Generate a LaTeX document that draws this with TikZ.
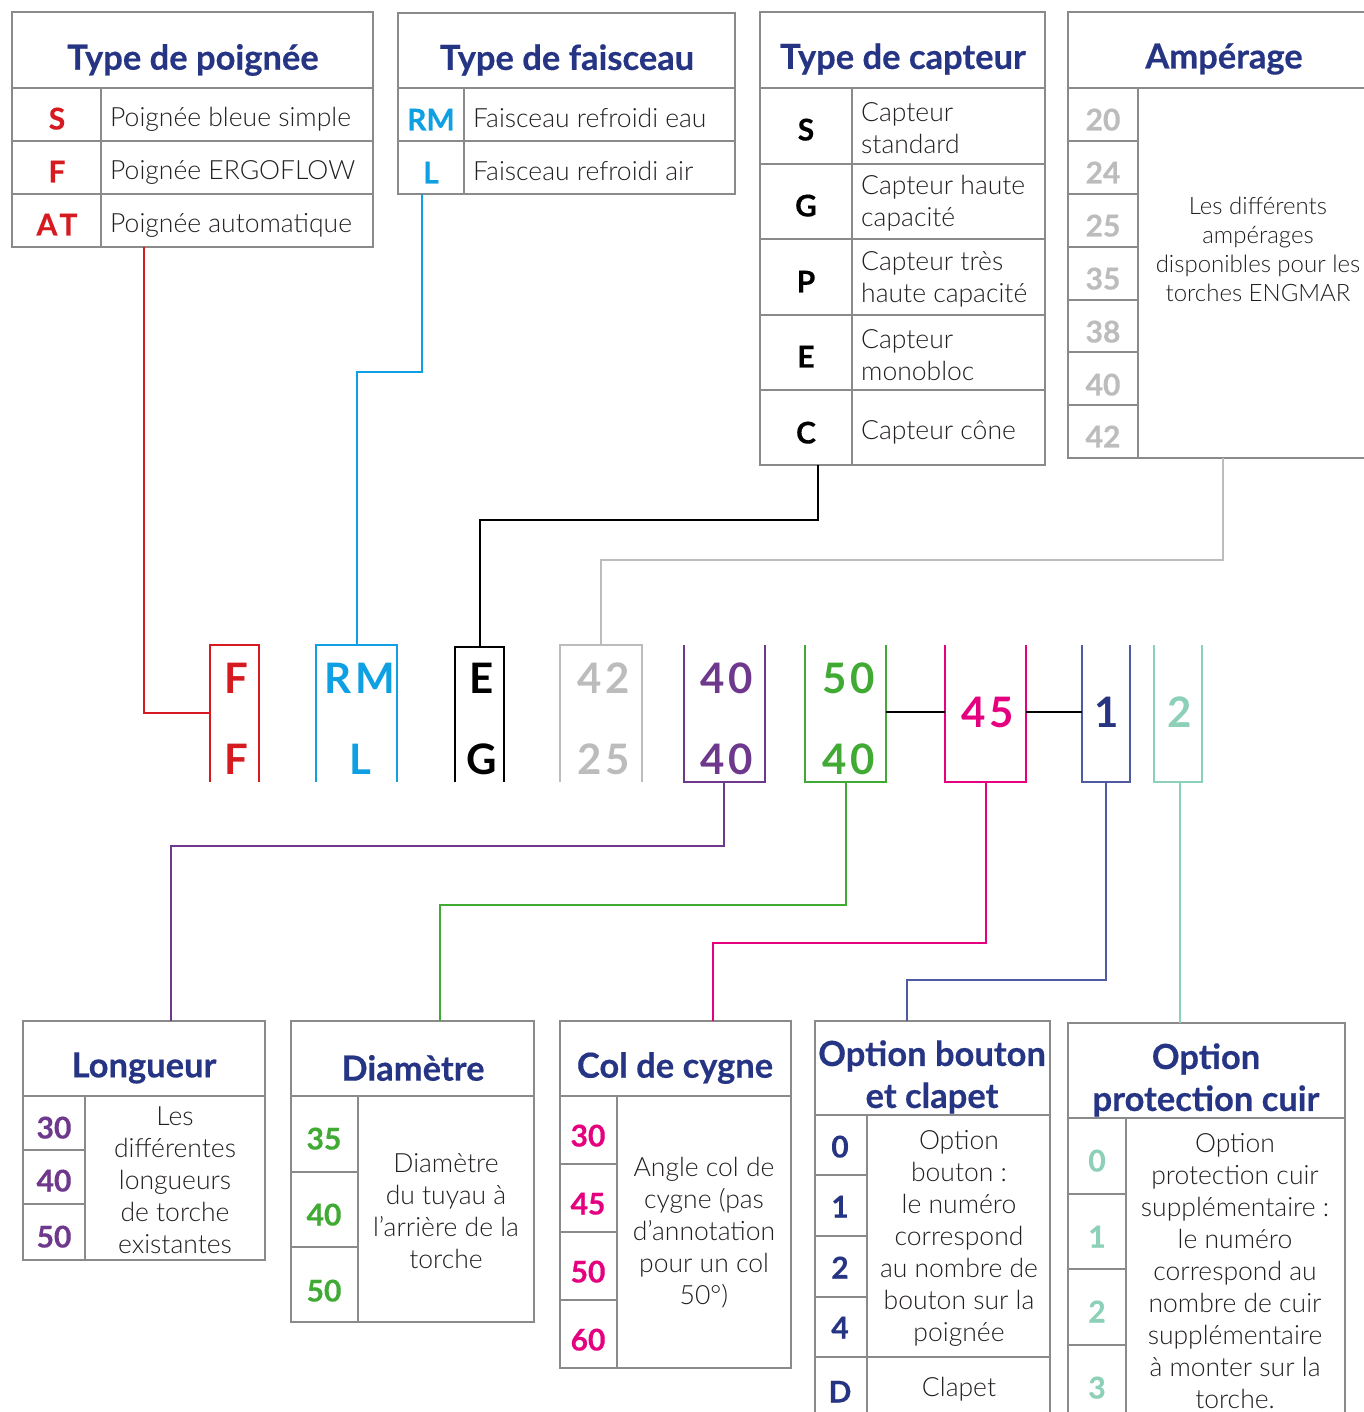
\documentclass[tikz,border=0pt]{standalone}
\usepackage{fontspec}
\setmainfont{Lato Light}[BoldFont={Lato Bold}]
\newfontfamily\codefont[LetterSpace=8]{Lato Bold}
\newfontfamily\heavyfont[FakeBold=0.4]{Lato Bold}
\definecolor{navy}{RGB}{38,52,132}
\definecolor{cred}{RGB}{213,26,32}
\definecolor{cblue}{RGB}{14,160,226}
\definecolor{cgray}{RGB}{188,188,188}
\definecolor{cpurple}{RGB}{110,56,140}
\definecolor{cgreen}{RGB}{64,170,53}
\definecolor{cpink}{RGB}{228,0,126}
\definecolor{cnavy}{RGB}{40,52,128}
\definecolor{cnavyline}{RGB}{80,90,160}
\definecolor{cmint}{RGB}{140,208,184}
\definecolor{tblgray}{RGB}{138,138,138}
\definecolor{txt}{RGB}{35,31,32}
\tikzset{
  tbl/.style={draw=tblgray, line width=1.3pt},
  ttl/.style={font=\fontsize{34.5}{42}\selectfont\heavyfont, text=navy, align=center, inner sep=0pt, yshift=-3pt},
  body/.style={font=\fontsize{26.5}{32}\selectfont, text=txt, align=center, inner sep=0pt},
  bodyl/.style={font=\fontsize{26.5}{32}\selectfont, text=txt, align=left, anchor=west, inner sep=0pt, yshift=-3pt},
  small/.style={font=\fontsize{24}{29}\selectfont, text=txt, align=center, inner sep=0pt},
  code/.style={font=\fontsize{30}{32}\selectfont\heavyfont, inner sep=0pt, anchor=mid, yshift=-7pt},
  big/.style={font=\fontsize{42}{44}\selectfont\codefont, inner sep=0pt, anchor=mid, yshift=-11pt},
  conn/.style={line width=1.4pt},
  cbox/.style={line width=1.6pt}
}
\begin{document}
\begin{tikzpicture}[x=1pt,y=-1pt]
\useasboundingbox (0,0) rectangle (1363,1412);
\fill[white] (0,0) rectangle (1363,1412);

% ---------- Table 1: Type de poignee
\draw[tbl] (12,12) rectangle (373,247);
\draw[tbl] (12,88) -- (373,88) (12,141) -- (373,141) (12,194) -- (373,194) (101,88) -- (101,247);
\node[ttl] (t1title) at (193,57) {Type de poignée};
\node[code,text=cred] (t1s) at (57,120) {S};
\node[code,text=cred] (t1f) at (57,173) {F};
\node[code,text=cred] (t1at) at (57,226) {A\kern2pt T};
\node[bodyl] (t1d1) at (110,116) {Poignée bleue simple};
\node[bodyl] (t1d2) at (110,169) {Poignée ERGOFLOW};
\node[bodyl] (t1d3) at (110,222) {Poignée automatique};
\coordinate (t1b) at (144,247);

% ---------- Table 2: Type de faisceau
\draw[tbl] (398,13) rectangle (735,194);
\draw[tbl] (398,88) -- (735,88) (398,141) -- (735,141) (464,88) -- (464,194);
\node[ttl] (t2title) at (567,57) {Type de faisceau};
\node[code,text=cblue] (t2rm) at (431,121) {RM};
\node[code,text=cblue] (t2l) at (431,174) {L};
\node[bodyl] (t2d1) at (473,115) {Faisceau refroidi eau};
\node[bodyl] (t2d2) at (473,168) {Faisceau refroidi air};
\coordinate (t2b) at (422,194);

% ---------- Table 3: Type de capteur
\draw[tbl] (760,12) rectangle (1045,465);
\draw[tbl] (760,88) -- (1045,88) (760,164) -- (1045,164) (760,239) -- (1045,239)
  (760,315) -- (1045,315) (760,390) -- (1045,390) (852,88) -- (852,465);
\node[ttl] (t3title) at (903,56) {Type de capteur};
\node[code,text=black] (t3s) at (806,131) {S};
\node[code,text=black] (t3g) at (806,207) {G};
\node[code,text=black] (t3p) at (806,283) {P};
\node[code,text=black] (t3e) at (806,358) {E};
\node[code,text=black] (t3c) at (806,434) {C};
\node[bodyl] (t3d1) at (861,125) {Capteur\\standard};
\node[bodyl] (t3d2) at (861,200) {Capteur haute\\capacité};
\node[bodyl] (t3d3) at (861,276) {Capteur très\\haute capacité};
\node[bodyl] (t3d4) at (861,352) {Capteur\\monobloc};
\node[bodyl] (t3d5) at (861,429) {Capteur cône};
\coordinate (t3b) at (818,465);

% ---------- Table 4: Amperage
\draw[tbl] (1372,12) -- (1068,12) -- (1068,458) -- (1372,458);
\draw[tbl] (1068,88) -- (1372,88) (1138,88) -- (1138,458);
\draw[tbl] (1068,141) -- (1138,141) (1068,194) -- (1138,194) (1068,247) -- (1138,247)
  (1068,300) -- (1138,300) (1068,352) -- (1138,352) (1068,405) -- (1138,405);
\node[ttl] (t4title) at (1224,56) {Ampérage};
\foreach \v/\yy/\nm in {20/121/a,24/174/b,25/227/c,35/280/d,38/333/e,40/386/f,42/438/g}
  \node[code,text=cgray] (t4\nm) at (1103,\yy) {\v};
\node[small] (t4desc) at (1258,249) {Les différents\\ampérages\\disponibles pour les\\torches ENGMAR};
\coordinate (t4b) at (1223,458);

% ---------- Code boxes
\draw[cbox,cred] (210,782) -- (210,645) -- (259,645) -- (259,782);
\draw[cbox,cblue] (316,782) -- (316,645) -- (397,645) -- (397,782);
\draw[cbox,black] (455,782) -- (455,647) -- (504,647) -- (504,782);
\draw[cbox,cgray] (560,782) -- (560,645) -- (642,645) -- (642,782);
\draw[cbox,cpurple] (684,645) -- (684,782) -- (765,782) -- (765,645);
\draw[cbox,cgreen] (805,645) -- (805,782) -- (886,782) -- (886,645);
\draw[cbox,cpink] (945,645) -- (945,782) -- (1026,782) -- (1026,645);
\draw[cbox,cnavyline] (1082,645) -- (1082,782) -- (1130,782) -- (1130,645);
\draw[cbox,cmint] (1154,645) -- (1154,782) -- (1202,782) -- (1202,645);

\node[big,text=cred] (cf1) at (236,680) {F};
\node[big,text=cred] (cf2) at (236,761) {F};
\node[big,text=cblue] (crm) at (360,680) {RM};
\node[big,text=cblue] (cl) at (360,761) {L};
\node[big,text=black] (ce) at (482,680) {E};
\node[big,text=black] (cg) at (482,761) {G};
\node[big,text=cgray] (c42) at (604,680) {42};
\node[big,text=cgray] (c25) at (604,761) {25};
\node[big,text=cpurple] (c40a) at (727,680) {40};
\node[big,text=cpurple] (c40b) at (727,761) {40};
\node[big,text=cgreen] (c50) at (849,680) {50};
\node[big,text=cgreen] (c40c) at (849,761) {40};
\node[big,text=cpink] (c45) at (988,714) {45};
\node[big,text=cnavy] (c1) at (1107,714) {1};
\node[big,text=cmint] (c2) at (1180,714) {2};

\coordinate (bF) at (210,713);
\coordinate (bRM) at (357,645);
\coordinate (bE) at (480,647);
\coordinate (b42) at (601,645);
\coordinate (b40) at (724,782);
\coordinate (b50) at (846,782);
\coordinate (b45) at (986,782);
\coordinate (b1) at (1106,782);
\coordinate (b2) at (1180,782);

% ---------- Connectors top
\draw[conn,cred] (t1b) |- (bF);
\draw[conn,cblue] (t2b) -- ++(0,178) -| (bRM);
\draw[conn,black] (t3b) -- ++(0,55) -| (bE);
\draw[conn,cgray] (t4b) -- ++(0,102) -| (b42);
\draw[conn,black] (886,712) -- (945,712);
\draw[conn,black] (1026,712) -- (1082,712);

% ---------- Bottom tables
% Longueur
\draw[tbl] (23,1021) rectangle (265,1260);
\draw[tbl] (23,1096) -- (265,1096) (23,1150) -- (85,1150) (23,1204) -- (85,1204) (85,1096) -- (85,1260);
\node[ttl] (tLtitle) at (144,1065) {Longueur};
\node[code,text=cpurple] (tL30) at (54,1129) {30};
\node[code,text=cpurple] (tL40) at (54,1182) {40};
\node[code,text=cpurple] (tL50) at (54,1238) {50};
\node[body] (tLdesc) at (175,1180) {Les\\différentes\\longueurs\\de torche\\existantes};
\coordinate (tLt) at (171,1021);

% Diametre
\draw[tbl] (291,1021) rectangle (534,1322);
\draw[tbl] (291,1096) -- (534,1096) (291,1172) -- (358,1172) (291,1247) -- (358,1247) (358,1096) -- (358,1322);
\node[ttl] (tDtitle) at (413,1065) {Diamètre};
\node[code,text=cgreen] (tD35) at (324,1140) {35};
\node[code,text=cgreen] (tD40) at (324,1216) {40};
\node[code,text=cgreen] (tD50) at (324,1292) {50};
\node[body] (tDdesc) at (446,1211) {Diamètre\\du tuyau à\\l’arrière de la\\torche};
\coordinate (tDt) at (440,1021);

% Col de cygne
\draw[tbl] (560,1021) rectangle (791,1368);
\draw[tbl] (560,1096) -- (791,1096) (560,1164) -- (617,1164) (560,1232) -- (617,1232) (560,1300) -- (617,1300) (617,1096) -- (617,1368);
\node[ttl] (tCtitle) at (675,1065) {Col de cygne};
\node[code,text=cpink] (tC30) at (588,1137) {30};
\node[code,text=cpink] (tC45) at (588,1205) {45};
\node[code,text=cpink] (tC50) at (588,1273) {50};
\node[code,text=cpink] (tC60) at (588,1341) {60};
\node[body] (tCdesc) at (704,1233) {Angle col de\\cygne (pas\\d’annotation\\pour un col\\50°)};
\coordinate (tCt) at (713,1021);

% Option bouton et clapet
\draw[tbl] (815,1421) -- (815,1021) -- (1050,1021) -- (1050,1421);
\draw[tbl] (815,1115) -- (1050,1115) (815,1175) -- (867,1175) (815,1236) -- (867,1236) (815,1297) -- (867,1297)
  (815,1357) -- (1050,1357) (867,1115) -- (867,1421);
\node[ttl] (tBtitle) at (932,1074) {Option bouton\\et clapet};
\node[code,text=navy] (tB0) at (840,1148) {0};
\node[code,text=navy] (tB1) at (840,1208) {1};
\node[code,text=navy] (tB2) at (840,1269) {2};
\node[code,text=navy] (tB4) at (840,1329) {4};
\node[code,text=navy] (tBD) at (840,1393) {D};
\node[body] (tBdesc) at (959,1238) {Option\\bouton :\\le numéro\\correspond\\au nombre de\\bouton sur la\\poignée};
\node[body] (tBclap) at (959,1389) {Clapet};
\coordinate (tBt) at (907,1021);

% Option protection cuir
\draw[tbl] (1068,1421) -- (1068,1023) -- (1345,1023) -- (1345,1421);
\draw[tbl] (1068,1118) -- (1345,1118) (1068,1194) -- (1126,1194) (1068,1269) -- (1126,1269) (1068,1345) -- (1126,1345) (1126,1118) -- (1126,1421);
\node[ttl] (tPtitle) at (1206,1077) {Option\\protection cuir};
\node[code,text=cmint] (tP0) at (1097,1162) {0};
\node[code,text=cmint] (tP1) at (1097,1238) {1};
\node[code,text=cmint] (tP2) at (1097,1313) {2};
\node[code,text=cmint] (tP3) at (1097,1389) {3};
\node[body] (tPdesc) at (1235,1271) {Option\\protection cuir\\supplémentaire :\\le numéro\\correspond au\\nombre de cuir\\supplémentaire\\à monter sur la\\torche.};
\coordinate (tPt) at (1180,1023);

% ---------- Connectors bottom
\draw[conn,cpurple] (b40) -- ++(0,64) -| (tLt);
\draw[conn,cgreen] (b50) -- ++(0,123) -| (tDt);
\draw[conn,cpink] (b45) -- ++(0,161) -| (tCt);
\draw[conn,cnavyline] (b1) -- ++(0,198) -| (tBt);
\draw[conn,cmint] (b2) -- (tPt);
\end{tikzpicture}
\end{document}
